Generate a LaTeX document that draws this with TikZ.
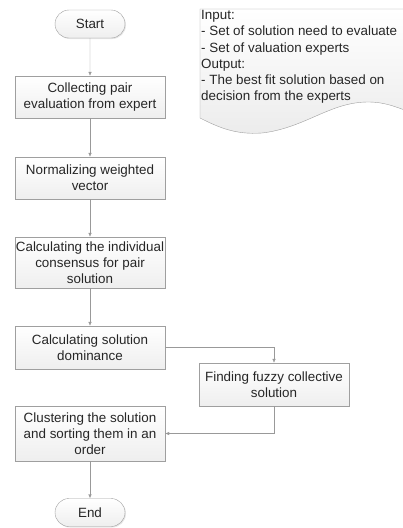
\documentclass[tikz,border=0pt]{standalone}
\usepackage{fontspec}
\setmainfont{Liberation Sans}
\usepackage{tikz}
\usetikzlibrary{calc,shapes.misc,arrows.meta,shadows}

\tikzset{
  proc/.style={draw=gray!75, top color=white, bottom color=gray!13, minimum width=150pt,
    align=center, inner xsep=1pt, inner ysep=0pt, font=\fontsize{13.4}{16}\selectfont, text=black!85,
    drop shadow={shadow xshift=1pt, shadow yshift=-1pt, opacity=0.2}},
  term/.style={proc, rounded rectangle, minimum width=72pt, minimum height=28pt},
  link/.style={draw=gray!80, -{Latex[length=4pt,width=3.5pt]}}
}

\begin{document}
\begin{tikzpicture}[x=1pt, y=1pt, yscale=-1]
\useasboundingbox (0,0) rectangle (403,528);
\draw[draw=gray!75, top color=white, bottom color=gray!15]
  (200,9) -- (410,9) -- (410,112) .. controls (396,107) and (385,102) .. (368,102)
  .. controls (330,102) and (305,128) .. (262,133)
  .. controls (235,135) and (218,127) .. (200,118) -- cycle;
\node[anchor=north west, align=left, inner sep=1pt, text=black!85, font=\fontsize{13.4}{16.3}\selectfont] (NOTE) at (200,9)
  {Input:\\- Set of solution need to evaluate\\- Set of valuation experts\\Output:\\
   - The best fit solution based on\\decision from the experts};
\node[term] (START) at (90,24) {Start};
\node[proc, minimum height=42pt] (COLLECT) at (90,97) {Collecting pair\\evaluation from expert};
\node[proc, minimum height=42pt] (NORM) at (90,178) {Normalizing weighted\\vector};
\node[proc, minimum height=51pt] (CONS) at (90,262.5) {Calculating the individual\\consensus for pair\\solution};
\node[proc, minimum height=43pt] (DOM) at (90,347.5) {Calculating solution\\dominance};
\node[proc, minimum height=43pt] (FUZZY) at (274,384.5) {Finding fuzzy collective\\solution};
\node[proc, minimum height=55pt] (CLUSTER) at (90,433.5) {Clustering the solution\\and sorting them in an\\order};
\node[term] (END) at (90,512.5) {End};
\draw[link] (START) -- (COLLECT);
\draw[link] (COLLECT) -- (NORM);
\draw[link] (NORM) -- (CONS);
\draw[link] (CONS) -- (DOM);
\draw[link] (DOM.east) -| (FUZZY.north);
\draw[link] (FUZZY.south) |- (CLUSTER.east);
\draw[link] (CLUSTER) -- (END);
\end{tikzpicture}
\end{document}
